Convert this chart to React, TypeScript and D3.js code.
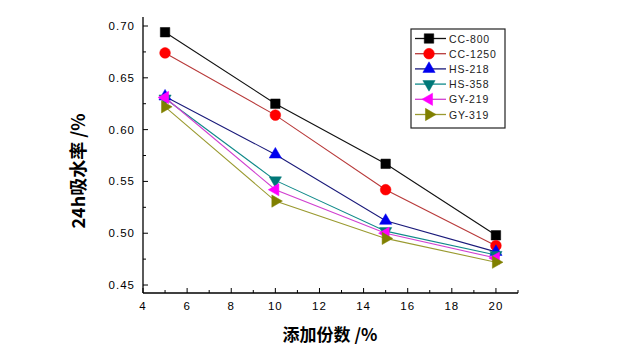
import React from "react";
import * as d3 from "d3";

const width = 640;
const height = 353;

const xValues = [5, 10, 15, 20];
const seriesNames = ["CC-800", "CC-1250", "HS-218", "HS-358", "GY-219", "GY-319"];
const cc800 = [0.694, 0.625, 0.567, 0.498];
const cc1250 = [0.674, 0.614, 0.542, 0.488];
const hs218 = [0.632, 0.576, 0.512, 0.482];
const hs358 = [0.630, 0.551, 0.502, 0.479];
const gy219 = [0.631, 0.542, 0.500, 0.476];
const gy319 = [0.622, 0.531, 0.495, 0.472];
const seriesValues = [cc800, cc1250, hs218, hs358, gy219, gy319];

const xTickLabels = ["4", "6", "8", "10", "12", "14", "16", "18", "20"];
const yTickLabels = ["0.45", "0.50", "0.55", "0.60", "0.65", "0.70"];

// per-series look: line colour, marker fill, marker shape, rotation
const styles = [
  { line: "#111111", fill: "#000000", shape: d3.symbolSquare, rot: 0, size: 90 },
  { line: "#b83a3a", fill: "#ff0000", shape: d3.symbolCircle, rot: 0, size: 90 },
  { line: "#1a1a7a", fill: "#0000ee", shape: d3.symbolTriangle, rot: 0, size: 65 },
  { line: "#108a8a", fill: "#007878", shape: d3.symbolTriangle, rot: 180, size: 65 },
  { line: "#d040d0", fill: "#ff00ff", shape: d3.symbolTriangle, rot: 270, size: 65 },
  { line: "#9a9a30", fill: "#808000", shape: d3.symbolTriangle, rot: 90, size: 65 },
];

const x = d3.scaleLinear().domain([4, 21]).range([143, 518]);
const y = d3.scaleLinear().domain([0.4423, 0.7087]).range([293, 17]);

const numFont = "'Liberation Sans', Arial, sans-serif";
const cjkFont = "'Noto Sans CJK SC', 'Liberation Sans', sans-serif";

const Marker = ({ cx, cy, s }) => (
  <path
    d={d3.symbol().type(s.shape).size(s.size)()}
    transform={`translate(${cx},${cy}) rotate(${s.rot})`}
    fill={s.fill}
    stroke={s.fill}
    strokeWidth={0.5}
  />
);

export default function App() {
  const line = d3
    .line<number>()
    .x((d, i) => x(xValues[i]))
    .y((d) => y(d));

  const xMajor = xTickLabels.map(Number);
  const xMinor = d3.range(5, 22, 2);
  const yMajor = yTickLabels.map(Number);
  const yMinor = d3.range(0.475, 0.71, 0.05);

  const x0 = x.range()[0];
  const y0 = y.range()[0];

  const legendX = 411;
  const legendY = 29;
  const rowH = 15.2;

  return (
    <svg width={width} height={height} style={{ position: "absolute", left: 0, top: 0, background: "#fff" }}>
      <rect width={width} height={height} fill="#fff" />

      {/* axes */}
      <line x1={x0} x2={x0} y1={y(0.7087)} y2={y0} stroke="#000" strokeWidth={1.3} />
      <line x1={x0} x2={x.range()[1]} y1={y0} y2={y0} stroke="#000" strokeWidth={1.3} />

      {xMajor.map((t, i) => (
        <g key={"xm" + i}>
          <line x1={x(t)} x2={x(t)} y1={y0} y2={y0 - 5} stroke="#000" />
          <text x={x(t)} y={y0 + 17} textAnchor="middle" fontFamily={numFont} fontSize={11.5} letterSpacing={1}>
            {xTickLabels[i]}
          </text>
        </g>
      ))}
      {xMinor.map((t, i) => (
        <line key={"xn" + i} x1={x(t)} x2={x(t)} y1={y0} y2={y0 - 3} stroke="#000" />
      ))}

      {yMajor.map((t, i) => (
        <g key={"ym" + i}>
          <line x1={x0} x2={x0 + 5} y1={y(t)} y2={y(t)} stroke="#000" />
          <text x={x0 - 8} y={y(t) + 4} textAnchor="end" fontFamily={numFont} fontSize={11.5} letterSpacing={1}>
            {yTickLabels[i]}
          </text>
        </g>
      ))}
      {yMinor.map((t, i) => (
        <line key={"yn" + i} x1={x0} x2={x0 + 3} y1={y(t)} y2={y(t)} stroke="#000" />
      ))}

      {/* series */}
      {seriesValues.map((vals, k) => (
        <path key={"l" + k} d={line(vals)} fill="none" stroke={styles[k].line} strokeWidth={1.1} />
      ))}
      {seriesValues.map((vals, k) =>
        vals.map((v, i) => <Marker key={"m" + k + "-" + i} cx={x(xValues[i])} cy={y(v)} s={styles[k]} />)
      )}

      {/* legend */}
      <rect x={legendX} y={legendY} width={94} height={99} fill="#fff" stroke="#222" strokeWidth={1.2} />
      {seriesNames.map((name, k) => {
        const cy = legendY + 9.5 + k * rowH;
        return (
          <g key={"lg" + k}>
            <line x1={legendX + 4} x2={legendX + 35} y1={cy} y2={cy} stroke={styles[k].line} strokeWidth={1.3} />
            <Marker cx={legendX + 18} cy={cy} s={styles[k]} />
            <text x={legendX + 38} y={cy + 4} fontFamily={numFont} fontSize={10.5} letterSpacing={0.8} fill="#222">
              {name}
            </text>
          </g>
        );
      })}

      {/* titles */}
      <text
        transform="translate(85,171) rotate(-90)"
        textAnchor="middle"
        fontFamily={cjkFont}
        fontWeight="bold"
        fontSize={18}
      >
        24h吸水率 /%
      </text>
      <text x={330} y={341} textAnchor="middle" fontFamily={cjkFont} fontWeight="bold" fontSize={17}>
        添加份数 /%
      </text>
    </svg>
  );
}
